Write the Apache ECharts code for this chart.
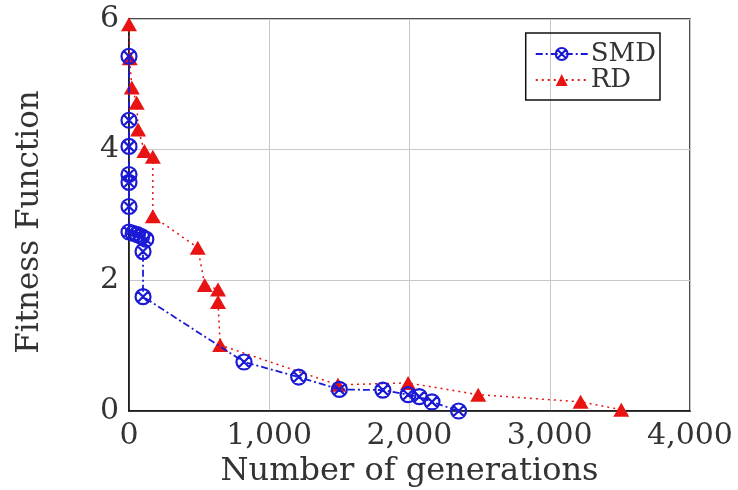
<!DOCTYPE html>
<html>
<head>
<meta charset="utf-8">
<script src="https://cdn.jsdelivr.net/npm/echarts@6/dist/echarts.min.js"></script>
<style>html,body{margin:0;padding:0;background:#fff}#c{width:738px;height:490px}</style>
</head>
<body>
<div id="c"></div>
<script>
var seriesNames = ['SMD', 'RD'];
var smdX = [0, 0, 0, 0, 0, 0, 0, 30, 60, 90, 120, 100, 100, 820, 1210, 1500, 1810, 1990, 2070, 2160, 2350];
var smdY = [5.43, 4.45, 4.05, 3.62, 3.5, 3.13, 2.74, 2.72, 2.7, 2.67, 2.63, 2.44, 1.75, 0.75, 0.52, 0.33, 0.32, 0.25, 0.22, 0.14, 0];
var rdX = [0, 5, 20, 55, 65, 110, 170, 170, 490, 540, 635, 635, 650, 1490, 1990, 2490, 3220, 3510];
var rdY = [5.92, 5.4, 4.95, 4.72, 4.31, 3.98, 3.89, 2.98, 2.5, 1.93, 1.86, 1.67, 1.01, 0.4, 0.43, 0.25, 0.14, 0.02];
var xTicks = [0, 1000, 2000, 3000, 4000];
var yTicks = [0, 2, 4, 6];

function pairs(xs, ys) { return xs.map(function (x, i) { return [x, ys[i]]; }); }
var font = '"DejaVu Serif", "Liberation Serif", serif';
var blue = '#1a1ad6';
var red = '#e81414';
var circX = 'path://M0,-10A10,10 0 1,1 0,10A10,10 0 1,1 0,-10ZM-7,-7L7,7M7,-7L-7,7';

var chart = echarts.init(document.getElementById('c'), null, {renderer: 'canvas'});
chart.setOption({
  animation: false,
  backgroundColor: '#fff',
  grid: {left: 129, right: 48, top: 19, bottom: 79, show: true, borderColor: '#111', borderWidth: 1.5,
    containLabel: false, outerBoundsMode: 'none'},
  legend: {
    right: 78, top: 33, orient: 'vertical', itemGap: 0, itemWidth: 52, itemHeight: 15,
    borderColor: '#111', borderWidth: 1.5, padding: [8, 4, 7, 9],
    textStyle: {fontFamily: font, fontSize: 26, color: '#333', padding: [0, 0, 0, -2]},
    data: seriesNames
  },
  xAxis: {
    type: 'value', min: 0, max: 4000, interval: 1000,
    name: 'Number of generations', nameLocation: 'middle', nameGap: 38,
    nameTextStyle: {fontFamily: font, fontSize: 32, color: '#333'},
    axisLine: {lineStyle: {color: '#111', width: 1.5}},
    axisTick: {show: false},
    splitLine: {show: true, lineStyle: {color: '#c8c8c8', width: 1}},
    axisLabel: {fontFamily: font, fontSize: 30, color: '#333', margin: 10,
      formatter: function (v) { return xTicks.indexOf(v) >= 0 ? v.toLocaleString('en-US') : ''; }}
  },
  yAxis: {
    type: 'value', min: 0, max: 6, interval: 2,
    name: 'Fitness Function', nameLocation: 'middle', nameGap: 84,
    nameTextStyle: {fontFamily: font, fontSize: 31, color: '#333', padding: [0, 14, 0, 0]},
    axisLine: {lineStyle: {color: '#111', width: 1.5}},
    axisTick: {show: false},
    splitLine: {show: true, lineStyle: {color: '#c8c8c8', width: 1}},
    axisLabel: {fontFamily: font, fontSize: 30, color: '#333', margin: 10,
      formatter: function (v) { return yTicks.indexOf(v) >= 0 ? String(v) : ''; }}
  },
  series: [
    {
      name: seriesNames[1], type: 'line', data: pairs(rdX, rdY), z: 2,
      symbol: 'triangle', symbolSize: [16, 14],
      itemStyle: {color: red},
      lineStyle: {color: red, width: 1.5, type: [2, 4]}
    },
    {
      name: seriesNames[0], type: 'line', data: pairs(smdX, smdY), z: 3,
      symbol: circX, symbolSize: 15,
      itemStyle: {color: 'rgba(255,255,255,0)', borderColor: blue, borderWidth: 2.2},
      lineStyle: {color: blue, width: 1.8, type: [7, 3, 2, 3]}
    }
  ]
});
</script>
</body>
</html>
